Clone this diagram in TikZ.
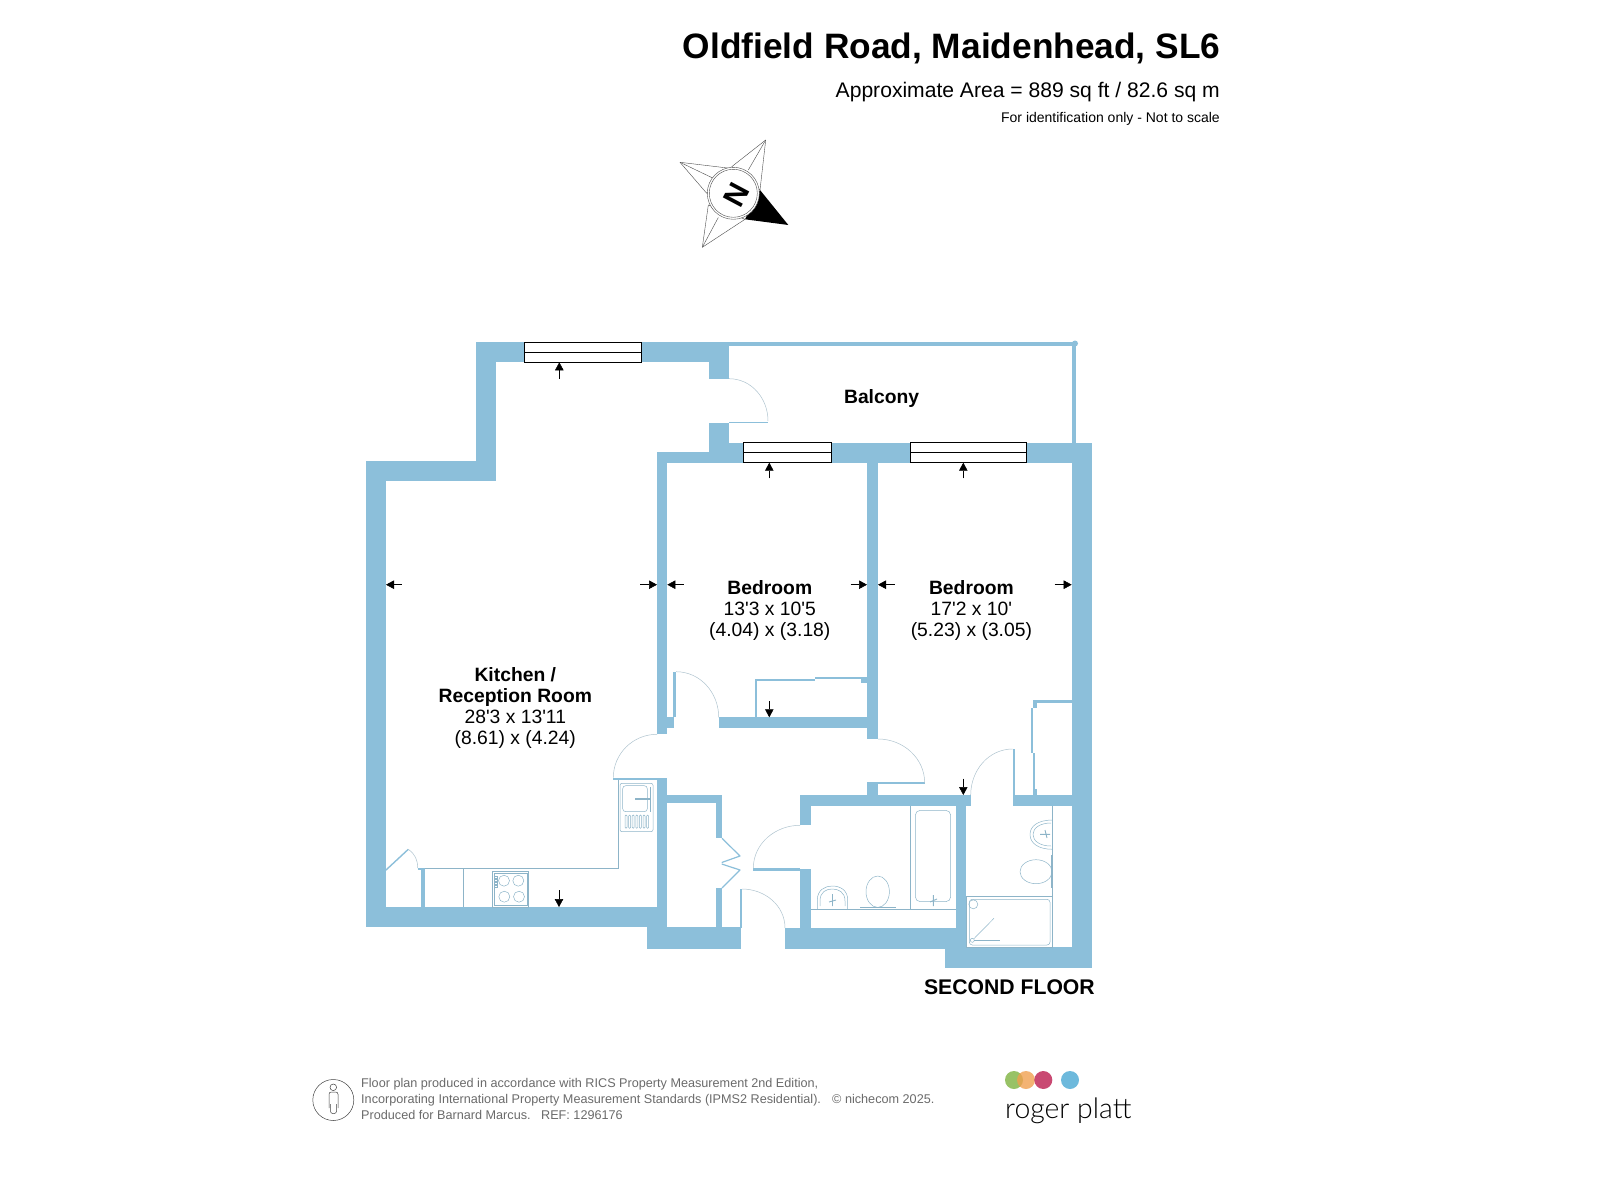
\documentclass[tikz,border=0pt]{standalone}
\usepackage{fontspec}
\setmainfont{Liberation Sans}
\newfontfamily\logofont{Lato Light}
\usetikzlibrary{arrows.meta}
\definecolor{wallc}{HTML}{8CBFDA}
\definecolor{fixc}{HTML}{8DB4C8}
\definecolor{arcc}{HTML}{AEC3CE}
\definecolor{footc}{HTML}{6A6A6A}
\definecolor{lgreen}{HTML}{8DBB55}
\definecolor{lorange}{HTML}{F0A050}
\definecolor{lred}{HTML}{C43A66}
\definecolor{lblue}{HTML}{6DB9DC}
\tikzset{
  fixt/.style={draw=fixc,line width=0.5pt},
  doorarc/.style={draw=arcc,line width=0.5pt},
  measure/.style={draw=black,line width=0.5pt,-{Triangle[length=8pt,width=8.5pt]}},
  winbox/.style={draw=black,fill=white,line width=0.8pt},
  roomlbl/.style={align=center,inner sep=0pt,font=\fontsize{19.3}{21}\selectfont},
  foot/.style={anchor=base west,inner sep=0pt,text=footc,font=\fontsize{12.65}{15}\selectfont},
  head/.style={anchor=base east,inner sep=0pt},
  arm/.style={draw=black!70,fill=white,line width=0.4pt,line join=round},
}
\newcommand{\wl}[4]{\fill[wallc] (#1,#2) rectangle (#3,#4);}
\newcommand{\winrect}[4]{\draw[winbox] (#1,#2) rectangle (#3,#4);\draw[black,line width=0.8pt] (#1,{(#2+#4)/2}) -- (#3,{(#2+#4)/2});}
\newcommand{\arrw}[4]{\draw[measure] (#1,#2) -- (#3,#4);}
\newcommand{\sq}{\textquotesingle}
\begin{document}
\begin{tikzpicture}[x=1pt,y=-1pt]
\useasboundingbox (0,0) rectangle (1600,1177);
% ---- walls
\wl{476}{342}{729}{362.3}
\wl{476}{342}{496}{480.7}
\wl{366}{460.7}{496}{480.7}
\wl{366}{460.7}{386}{927.3}
\wl{366}{907}{657}{927.3}
\wl{647}{927}{741}{948.7}
\wl{709}{342}{729}{378.7}
\wl{709}{423.3}{729}{462.7}
\wl{729}{342}{1076.7}{346.3}
\wl{1071.7}{342}{1076}{443}
\fill[wallc] (1075,343.5) circle (3);
\wl{657}{452}{729}{462.7}
\wl{729}{442.7}{1092}{462.7}
\wl{1071.7}{442.7}{1092}{967.7}
\wl{657}{452}{667.3}{734.3}
\wl{667.3}{717.3}{674.3}{728.3}
\wl{673.3}{671.7}{676}{717.3}
\wl{718.7}{717.3}{878}{728.3}
\wl{867}{442.7}{878}{739}
\wl{867}{782.3}{878}{795}
\wl{878}{782.3}{924.7}{784.3}
\wl{613.3}{777.7}{667.3}{779.6}
\wl{657}{778}{667.3}{948}
\wl{667.3}{795}{722.3}{803.3}
\wl{716.3}{795}{722.3}{838.3}
\wl{716.3}{888}{722.3}{928}
\wl{740}{889}{742.3}{928}
\wl{785}{928.3}{966}{948.7}
\wl{945}{947}{1092}{967.7}
\wl{800}{795}{810.7}{825.3}
\wl{800}{869.3}{810.7}{930}
\wl{753.3}{868.3}{800}{870.7}
\wl{800}{795}{970.7}{805.7}
\wl{955.7}{805.7}{966}{950}
\wl{1012.7}{749}{1015}{795}
\wl{1012.7}{795}{1071.7}{805.7}
\wl{1033.3}{700.3}{1071.7}{703.3}
\wl{1033.3}{700.3}{1037}{708}
\wl{1031}{708}{1033.3}{753}
\wl{1032.5}{753}{1035}{790}
\wl{1032.5}{789}{1037}{795}
\wl{755}{679}{757.3}{717.3}
\wl{755}{679}{815}{680.7}
\wl{815}{676.7}{863}{679}
\wl{861}{677}{867}{683}
\wl{420.7}{868.7}{425}{907}
\wl{417.7}{868}{425}{870.2}
\draw[wallc,line width=1.4pt] (386,870) -- (408.3,849.3);
\draw[wallc,line width=1.2pt,line join=round] (722,838.3) -- (740,856) -- (721.7,862.5);
\draw[wallc,line width=1.2pt,line join=round] (721.7,864) -- (740,870) -- (722,888);
% ---- windows
\winrect{524.3}{342}{641.7}{362.3}
\winrect{743.3}{442.7}{831.7}{462.7}
\winrect{910.3}{442.7}{1026.7}{462.7}
% ---- door swings
\draw[doorarc] (729,378.7) to[out=0,in=90] (768,421);
\draw[wallc,line width=1.2pt] (729,422.3) -- (768,422.3);
\draw[doorarc] (676,671.7) to[out=0,in=90] (718.7,717.3);
\draw[doorarc] (657,734.3) to[out=180,in=90] (613.3,777.7);
\draw[doorarc] (878,739) to[out=0,in=90] (924.7,783);
\draw[doorarc] (1012.7,749) to[out=180,in=90] (970.7,795);
\draw[doorarc] (800,825.3) to[out=180,in=90] (753.3,868.3);
\draw[doorarc] (742,889) to[out=0,in=90] (785,928);
\draw[doorarc] (408.3,849.3) to[out=-35,in=90] (417.7,868);
% ---- kitchen fittings
\draw[fixt] (425,868.7) -- (618.7,868.7) -- (618.7,780);
\draw[fixt] (463.7,868.7) -- (463.7,907);
\draw[fixt] (492.3,871.7) rectangle (528.3,907);
\draw[fixt] (493.8,873.2) rectangle (526.8,905.5);
\foreach \cx/\cy in {504/880.7,518.3/880.7,504.3/896.7,519/896.7}{\draw[fixt] (\cx,\cy) circle (5.5);}
\foreach \cy in {876,879,882,885}{\draw[fixt] (494.5,\cy) rectangle (497.5,\cy+2);}
\draw[fixt,rounded corners=2pt] (620,783.3) rectangle (653,831.7);
\draw[fixt,rounded corners=3pt] (622.7,785.7) rectangle (647.3,811.7);
\draw[fixc,line width=1.2pt] (635,799) -- (651,799);
\foreach \cx in {625,628.6,632.2,635.8,639.4,643,646.6}{\draw[fixc,line width=0.5pt,rounded corners=1pt] (\cx,815) rectangle (\cx+2,828.3);}
\draw[fixt] (650,787) -- (650,812);
% ---- bath
\draw[fixt] (910.3,805.7) -- (910.3,909.3);
\draw[fixt] (810.7,909.3) -- (955.7,909.3);
\draw[fixt,rounded corners=5pt] (915.3,810.3) rectangle (950.7,901.7);
\draw[fixc,line width=0.9pt] (933.3,895) -- (933.3,906) (930,902) -- (937,899);
% basin + wc
\draw[fixt] (817.3,909.3) -- (817.3,900) .. controls (817.3,890) and (825,886) .. (832.3,886) .. controls (840,886) and (847.7,890) .. (847.7,900) -- (847.7,909.3);
\draw[fixt] (820,906) -- (820,901) .. controls (820,892) and (826,889) .. (832.3,889) .. controls (838.5,889) and (845,892) .. (845,901) -- (845,906);
\draw[fixc,line width=0.9pt] (832.5,894) -- (832.5,906) (829,902) -- (836,900);
\draw[fixt] (877.7,891.7) ellipse (11.7 and 15.7);
\draw[fixc,line width=0.9pt] (860,907.3) -- (895.7,907.3);
% ---- en suite
\draw[fixt] (1052.7,805.7) -- (1052.7,947.7);
\draw[fixt] (1052.7,820) .. controls (1038,820) and (1030,826) .. (1030,834.5) .. controls (1030,843) and (1038,849.3) .. (1052.7,849.3);
\draw[fixt] (1051,823) .. controls (1040,823) and (1033,828) .. (1033,834.5) .. controls (1033,841) and (1040,846) .. (1051,846);
\draw[fixc,line width=0.9pt] (1040,834.3) -- (1050,834.3) (1045,830) -- (1047,838);
\draw[fixt] (1036,871.7) ellipse (16 and 12);
\draw[fixc,line width=1.1pt] (1051.5,855) -- (1051.5,888);
\draw[fixt] (966,896.7) rectangle (1052.7,947.7);
\draw[fixt,rounded corners=3pt] (969.3,899.3) rectangle (1050,945);
\draw[fixt] (973.3,904.3) circle (4.5);
\draw[fixt] (972.3,940.3) circle (2);
\draw[fixt] (973.8,938.8) -- (994,918.3);
\draw[fixt] (974.3,940.3) -- (1000,940.3);
% ---- measure arrows
\arrw{559.3}{378.7}{559.3}{362.3}
\arrw{769.3}{478.3}{769.3}{462.7}
\arrw{963.3}{478.3}{963.3}{462.7}
\arrw{401.7}{584.7}{386}{584.7}
\arrw{640}{584.7}{657}{584.7}
\arrw{683.7}{584.7}{667.3}{584.7}
\arrw{850.7}{584.7}{867}{584.7}
\arrw{894.7}{584.7}{878}{584.7}
\arrw{1054.7}{584.7}{1071.7}{584.7}
\arrw{769.3}{701}{769.3}{717.3}
\arrw{963.3}{778.7}{963.3}{795}
\arrw{559}{890}{559}{907}
% ---- labels
\node[roomlbl] (balc) at (881.6,398.5) {\bfseries Balcony};
\node[roomlbl] (bed1) at (769.8,610.5) {{\bfseries Bedroom}\\13\sq 3 x 10\sq 5\\(4.04) x (3.18)};
\node[roomlbl] (bed2) at (971.4,610.5) {{\bfseries Bedroom}\\17\sq 2 x 10\sq\\(5.23) x (3.05)};
\node[roomlbl] (kitch) at (515.3,708) {{\bfseries Kitchen /}\\{\bfseries Reception Room}\\28\sq 3 x 13\sq 11\\(8.61) x (4.24)};
\node[anchor=base east,inner sep=0pt,font=\fontsize{21.2}{24}\selectfont\bfseries] (floor) at (1095,994) {SECOND FLOOR};
% ---- heading
\node[head,font=\fontsize{35.3}{40}\selectfont\bfseries] (title) at (1220.5,59) {Oldfield Road, Maidenhead, SL6};
\node[head,font=\fontsize{21.1}{24}\selectfont] (area) at (1220,98) {Approximate Area = 889 sq ft / 82.6 sq m};
\node[head,font=\fontsize{14}{16}\selectfont] (note) at (1220,123) {For identification only - Not to scale};
% ---- compass
\draw[arm] (765.7,140) -- (731.7,166.7) -- (760,190) -- cycle;
\draw[arm] (680,162.3) -- (730,168.3) -- (706.7,193.3) -- cycle;
\draw[arm] (702.3,247.3) -- (708.3,205) -- (745,219.3) -- cycle;
\fill[black] (760,190) -- (788.3,225) -- (745,219.3) -- cycle;
\draw[arm] (765.7,140) -- (748.3,170);
\draw[arm] (680,162.3) -- (713.3,178.3);
\draw[arm] (702.3,247.3) -- (718.3,217.5);
\draw[arm] (733.3,193.3) circle (26);
\draw[black!70,line width=0.4pt] (733.3,193.3) circle (24);
\node[inner sep=0pt,rotate=-118,font=\fontsize{30}{30}\selectfont\bfseries] (north) at (736.3,194.5) {N};
% ---- footer
\draw[black!75,line width=0.5pt] (333.3,1100) circle (20.5);
\draw[black!75,line width=0.5pt] (333.3,1087.3) circle (3.3);
\draw[black!75,line width=0.5pt,rounded corners=2.2pt] (329,1108) -- (329,1092) -- (338,1092) -- (338,1108);
\draw[black!75,line width=0.5pt,rounded corners=2.2pt] (330.5,1104) -- (330.5,1113.5) -- (336.5,1113.5) -- (336.5,1104);
\node[foot] (f1) at (361,1087.5) {Floor plan produced in accordance with RICS Property Measurement 2nd Edition,};
\node[foot] (f2) at (361,1103.5) {Incorporating International Property Measurement Standards (IPMS2 Residential).};
\node[foot] (f3) at (361,1119.5) {Produced for Barnard Marcus.\ \ \ REF: 1296176};
\node[foot] (f4) at (832,1103.5) {© nichecom 2025.};
% ---- logo
\fill[lgreen,opacity=.9] (1014,1080) circle (9);
\fill[lorange,opacity=.8] (1026,1080) circle (9);
\fill[lred,opacity=.92] (1043.3,1080) circle (9);
\fill[lblue] (1070,1080) circle (9);
\node[anchor=base west,inner sep=0pt,font=\logofont\fontsize{28.4}{32}\selectfont] (logo) at (1005,1118.2) {roger platt};
\end{tikzpicture}
\end{document}
